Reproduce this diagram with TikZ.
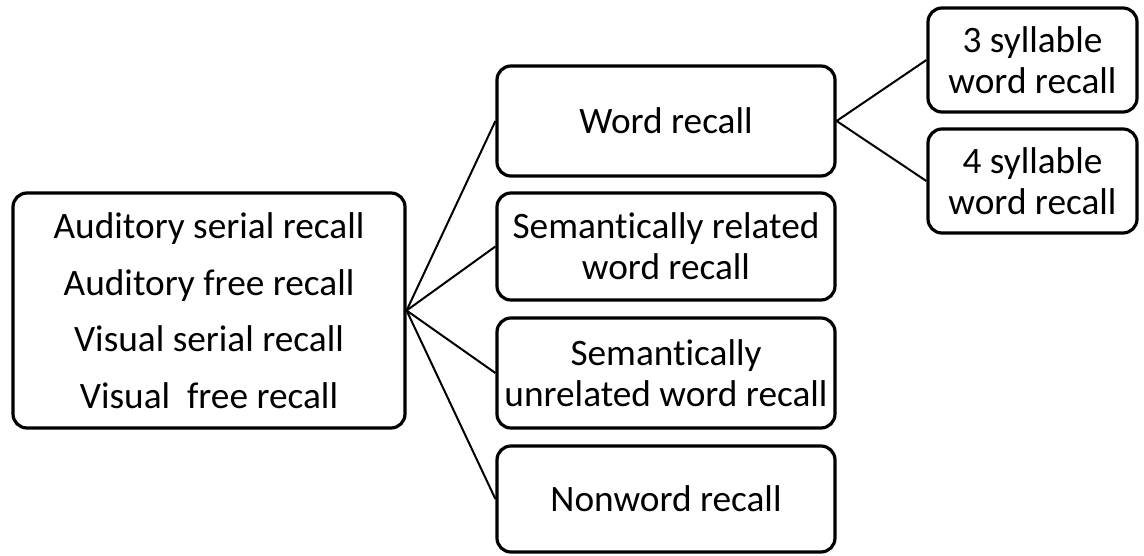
\documentclass[tikz,border=0pt]{standalone}
\usepackage{fontspec}
\setmainfont{Carlito}[Ligatures={NoCommon}]
\begin{document}
\begin{tikzpicture}[x=1pt,y=-1pt,
  box/.style={draw=black, line width=3.2pt, rounded corners=14pt, align=center, inner sep=0pt,
    font=\fontsize{37.3}{41}\selectfont},
  link/.style={draw=black, line width=2pt}]
\useasboundingbox (0,0) rectangle (1144,555);
\node[box, minimum width=392pt, minimum height=235pt, font=\fontsize{37.3}{56.5}\selectfont] (main) at (209,310.5)
  {Auditory serial recall\\Auditory free recall\\Visual serial recall\\Visual\ \ free recall};
\node[box, minimum width=338pt, minimum height=110pt] (word) at (666,121) {Word recall};
\node[box, minimum width=338pt, minimum height=107pt] (rel) at (666,246.5) {Semantically related\\word recall};
\node[box, minimum width=338pt, minimum height=110pt] (unrel) at (666,373) {Semantically\\unrelated word recall};
\node[box, minimum width=338pt, minimum height=106pt] (non) at (666,499) {Nonword recall};
\node[box, minimum width=209pt, minimum height=104pt] (three) at (1032.5,60) {3 syllable\\word recall};
\node[box, minimum width=209pt, minimum height=104pt] (four) at (1032.5,181) {4 syllable\\word recall};
\draw[link] (main.east) -- (word.west);
\draw[link] (main.east) -- (rel.west);
\draw[link] (main.east) -- (unrel.west);
\draw[link] (main.east) -- (non.west);
\draw[link] (word.east) -- (three.west);
\draw[link] (word.east) -- (four.west);
\end{tikzpicture}
\end{document}
